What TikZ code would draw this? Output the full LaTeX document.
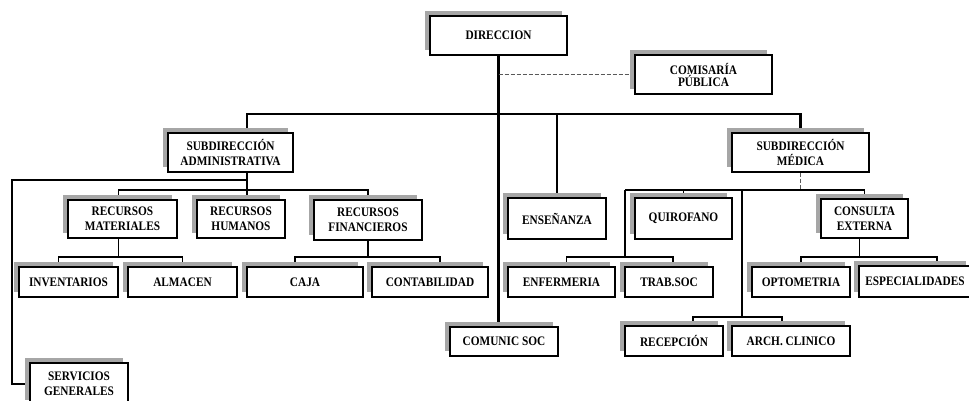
\documentclass[tikz,border=0pt]{standalone}
\usepackage{fontspec}
\newfontfamily\orgfont{Liberation Serif}[FakeStretch=0.87]
\usetikzlibrary{shadows}
\pgfdeclarelayer{bg}
\pgfsetlayers{bg,main}

% \orgunit{name}{x1}{y1}{x2}{y2}{label}: a shadowed box with its corners given
\newcommand\orgunit[6]{%
  \node[unit, minimum width={#4-#2}, minimum height={#5-#3}]
    (#1) at ({(#2+#4)/2},{(#3+#5)/2}) {#6};}

\begin{document}
\begin{tikzpicture}[x=1pt, y=-1pt,
  unit/.style={draw, line width=1.2pt, fill=white, inner sep=0pt, align=center,
    font=\orgfont\bfseries\fontsize{13}{15}\selectfont,
    drop shadow={shadow xshift=-5pt, shadow yshift=5pt, fill=gray!70, opacity=1}},
  link/.style={line width=1.1pt},
  trunk/.style={line width=2.3pt},
  staff/.style={line width=0.9pt, gray!70!black, dash pattern=on 4pt off 2pt}]
\useasboundingbox (0,0) rectangle (969,400);
\clip (0,0) rectangle (969,400);

% ---- units ----
\orgunit{dir}{430}{16}{567}{55}{DIRECCION}
\orgunit{com}{635}{55}{772}{94}{COMISARÍA\\[-3pt]PÚBLICA}
\orgunit{sadm}{168}{133}{293}{172}{SUBDIRECCIÓN\\ADMINISTRATIVA}
\orgunit{smed}{732}{133}{869}{172}{SUBDIRECCIÓN\\MÉDICA}
\orgunit{rmat}{68}{200}{177}{238}{RECURSOS\\MATERIALES}
\orgunit{rhum}{197}{200}{285}{238}{RECURSOS\\HUMANOS}
\orgunit{rfin}{314}{200}{422}{240}{RECURSOS\\FINANCIEROS}
\orgunit{ens}{508}{198}{606}{239}{ENSEÑANZA}
\orgunit{quir}{635}{198}{732}{239}{QUIROFANO}
\orgunit{cext}{821}{199}{908}{238}{CONSULTA\\EXTERNA}
\orgunit{inv}{19}{267}{118}{297}{INVENTARIOS}
\orgunit{alm}{128}{267}{237}{297}{ALMACEN}
\orgunit{caja}{247}{267}{363}{297}{CAJA}
\orgunit{cont}{372}{267}{488}{297}{CONTABILIDAD}
\orgunit{enf}{508}{267}{615}{297}{ENFERMERIA}
\orgunit{trab}{625}{267}{713}{297}{TRAB.SOC}
\orgunit{opt}{752}{267}{850}{297}{OPTOMETRIA}
\orgunit{esp}{859}{266}{971}{297}{ESPECIALIDADES}
\orgunit{soc}{450}{327}{558}{356}{COMUNIC SOC}
\orgunit{rec}{625}{326}{723}{356}{RECEPCIÓN}
\orgunit{arch}{732}{326}{850}{356}{ARCH. CLINICO}
\orgunit{serv}{30}{363}{128}{405}{SERVICIOS\\GENERALES}

% ---- junctions ----
\coordinate (busTop) at (247,114);
\coordinate (busAdm) at (247,190);
\coordinate (sgTurn) at (12,180);
\coordinate (busMed) at (625,190);
\coordinate (busLow) at (742,190);
\coordinate (busLowEnd) at (742,317);
\coordinate (row3) at (0,257);

\begin{pgfonlayer}{bg}
  % line of command from the direction
  \draw[trunk] (dir.south) -- (dir.south |- soc.north);
  \draw[staff] (dir.south |- com.west) -- (com.west);
  \draw[trunk] (sadm.north -| busTop) -- (busTop) -- (smed.north |- busTop) -- (smed.north);
  \draw[link] (ens.north) -- (ens.north |- busTop);

  % administrative branch
  \draw[link] (sadm.south -| busAdm) -- (rhum.north -| busAdm);
  \draw[link] ([xshift=-4pt]rmat.north) |- (rfin.north |- busAdm) -- (rfin.north);
  \draw[link] (busAdm |- sgTurn) -- (sgTurn) |- (serv.west);
  \draw[link] ([xshift=-4pt]rmat.south) -- ([xshift=-4pt]rmat.south |- row3);
  \draw[link] ([xshift=-10pt]inv.north) |- (alm.north |- row3) -- (alm.north);
  \draw[link] (rfin.south) -- (rfin.south |- row3);
  \draw[link] ([xshift=-10pt]caja.north) |- ([xshift=10pt]cont.north |- row3) -- ([xshift=10pt]cont.north);

  % medical branch
  \draw[staff] (smed.south) -- (smed.south |- busMed);
  \draw[link] (busMed) -- (cext.north |- busMed) -- (cext.north);
  \draw[link] (quir.north) -- (quir.north |- busMed);
  \draw[link] (busMed) -- (busMed |- row3);
  \draw[link] ([xshift=5pt]enf.north) |- ([xshift=4pt]trab.north |- row3) -- ([xshift=4pt]trab.north);
  \draw[link] (busLow) -- (busLowEnd);
  \draw[link] ([xshift=19pt]rec.north) |- ([xshift=-9pt]arch.north |- busLowEnd) -- ([xshift=-9pt]arch.north);
  \draw[link] ([xshift=-5pt]cext.south) -- ([xshift=-5pt]cext.south |- row3);
  \draw[link] (opt.north) |- ([xshift=22pt]esp.north |- row3) -- ([xshift=22pt]esp.north);
\end{pgfonlayer}
\end{tikzpicture}
\end{document}
